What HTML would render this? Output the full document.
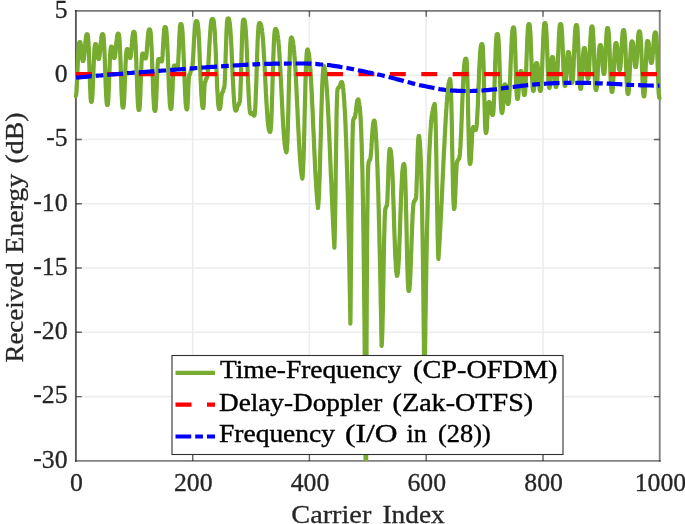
<!DOCTYPE html>
<html><head><meta charset="utf-8"><title>Received Energy</title>
<style>
html,body{margin:0;padding:0;background:#fff;}
svg{display:block;}
text{font-family:"Liberation Serif",serif;font-size:25.75px;fill:#262626;stroke:#262626;stroke-width:0.3px;}
.lg text{fill:#000;stroke:#000;stroke-width:0.4px;}
</style></head><body>
<svg width="685" height="524" viewBox="0 0 685 524">
<rect width="685" height="524" fill="#fff"/>
<defs><clipPath id="ax"><rect x="73.9" y="10.9" width="587.85" height="450.0"/></clipPath></defs>
<path d="M192.7 10.9V460.9M309.4 10.9V460.9M426.2 10.9V460.9M543.0 10.9V460.9M75.9 75.2H659.75M75.9 139.5H659.75M75.9 203.8H659.75M75.9 268.0H659.75M75.9 332.3H659.75M75.9 396.6H659.75" stroke="#ededed" stroke-width="1.6" fill="none"/>
<path d="M192.7 10.9v5.9M192.7 460.9v-5.9M309.4 10.9v5.9M309.4 460.9v-5.9M426.2 10.9v5.9M426.2 460.9v-5.9M543.0 10.9v5.9M543.0 460.9v-5.9M75.9 75.2h5.9M659.75 75.2h-5.9M75.9 139.5h5.9M659.75 139.5h-5.9M75.9 203.8h5.9M659.75 203.8h-5.9M75.9 268.0h5.9M659.75 268.0h-5.9M75.9 332.3h5.9M659.75 332.3h-5.9M75.9 396.6h5.9M659.75 396.6h-5.9" stroke="#262626" stroke-opacity="0.7" stroke-width="1.4" fill="none"/>
<g stroke="#262626" stroke-width="1.9" stroke-linecap="square" fill="none"><path d="M75.9 10.9V460.9" stroke-opacity="0.75"/><path d="M659.75 10.9V460.9" stroke-opacity="0.56"/><path d="M75.9 10.9H659.75" stroke-opacity="0.62"/><path d="M75.9 460.9H659.75" stroke-opacity="0.58"/></g>
<g clip-path="url(#ax)" fill="none" stroke-linejoin="round">
<polyline points="75.6,96.0 75.9,95.8 76.1,94.9 76.4,92.7 76.6,89.1 76.9,84.3 77.2,78.5 77.4,72.1 77.7,65.6 78.0,59.4 78.2,53.9 78.5,49.3 78.8,45.9 79.0,43.7 79.3,42.5 79.5,42.1 79.8,42.0 80.1,42.0 80.3,42.4 80.6,43.4 80.9,45.1 81.1,47.4 81.4,50.3 81.7,53.4 81.9,56.2 82.2,58.6 82.5,60.1 82.7,60.9 83.0,61.0 83.3,60.9 83.5,60.4 83.8,59.4 84.0,57.6 84.3,55.2 84.6,52.3 84.8,49.2 85.1,45.9 85.4,42.8 85.6,40.1 85.9,37.8 86.2,36.1 86.4,35.0 86.7,34.4 86.9,34.2 87.2,34.2 87.5,34.3 87.7,34.8 88.0,36.3 88.2,39.1 88.5,43.4 88.8,49.1 89.0,56.0 89.3,63.9 89.6,72.0 89.8,80.0 90.1,87.3 90.4,93.4 90.6,97.9 90.9,100.6 91.1,101.8 91.4,102.0 91.7,101.8 91.9,100.8 92.2,98.5 92.5,94.6 92.7,89.4 93.0,83.2 93.2,76.4 93.5,69.4 93.8,62.7 94.0,56.7 94.3,51.9 94.5,48.2 94.8,45.8 95.1,44.5 95.3,44.1 95.6,44.0 95.8,44.0 96.1,44.3 96.3,45.1 96.6,46.4 96.8,48.3 97.1,50.6 97.3,53.0 97.6,55.2 97.8,57.1 98.1,58.3 98.3,58.9 98.6,59.0 98.8,58.9 99.1,58.5 99.3,57.5 99.6,55.8 99.8,53.6 100.1,51.0 100.3,48.0 100.6,45.0 100.8,42.2 101.1,39.7 101.3,37.6 101.6,36.0 101.8,35.0 102.1,34.4 102.3,34.2 102.6,34.2 102.9,34.2 103.1,34.6 103.4,35.5 103.6,37.3 103.9,40.1 104.1,44.1 104.4,49.1 104.6,55.0 104.9,61.7 105.1,68.7 105.4,76.0 105.6,82.9 105.9,89.3 106.1,94.8 106.4,99.2 106.6,102.3 106.9,104.1 107.1,104.9 107.4,105.0 107.7,104.8 107.9,103.8 108.2,101.4 108.4,97.6 108.7,92.3 108.9,86.1 109.2,79.1 109.4,72.1 109.7,65.4 109.9,59.4 110.2,54.4 110.4,50.7 110.7,48.3 110.9,47.0 111.2,46.6 111.4,46.5 111.7,46.5 111.9,46.8 112.2,47.6 112.4,48.8 112.7,50.6 112.9,52.5 113.2,54.5 113.4,56.2 113.7,57.4 113.9,57.9 114.2,58.0 114.5,57.9 114.7,57.5 115.0,56.5 115.2,54.9 115.5,52.7 115.7,50.1 116.0,47.2 116.2,44.3 116.5,41.5 116.8,39.0 117.0,36.9 117.3,35.4 117.5,34.4 117.8,33.8 118.0,33.6 118.3,33.6 118.6,33.7 118.8,34.1 119.1,35.2 119.3,37.4 119.6,40.8 119.9,45.5 120.1,51.4 120.4,58.4 120.7,66.0 120.9,73.9 121.2,81.7 121.4,89.1 121.7,95.4 122.0,100.6 122.2,104.3 122.5,106.5 122.7,107.4 123.0,107.6 123.3,107.5 123.5,106.6 123.8,104.5 124.0,101.2 124.3,96.6 124.5,90.9 124.8,84.6 125.0,77.9 125.3,71.4 125.5,65.3 125.8,60.0 126.0,55.7 126.3,52.6 126.5,50.5 126.8,49.4 127.0,49.0 127.3,49.0 127.6,49.0 127.8,49.3 128.1,50.1 128.4,51.3 128.7,52.9 128.9,54.7 129.2,56.2 129.5,57.3 129.7,57.9 130.0,58.0 130.3,57.9 130.5,57.4 130.8,56.1 131.0,54.1 131.3,51.4 131.6,48.3 131.8,44.9 132.1,41.6 132.3,38.6 132.6,36.0 132.9,34.1 133.1,32.8 133.4,32.1 133.6,31.8 133.9,31.8 134.2,31.8 134.4,32.1 134.7,33.0 134.9,34.7 135.2,37.5 135.4,41.3 135.7,46.2 135.9,52.0 136.2,58.7 136.4,66.0 136.7,73.5 137.0,81.0 137.2,88.2 137.5,94.6 137.7,100.1 138.0,104.3 138.2,107.4 138.5,109.1 138.7,109.9 139.0,110.0 139.3,109.8 139.5,108.6 139.8,105.9 140.0,101.6 140.3,95.8 140.5,89.1 140.8,81.8 141.0,74.7 141.3,68.1 141.5,62.6 141.8,58.4 142.0,55.6 142.3,54.1 142.5,53.6 142.8,53.5 143.1,53.5 143.3,53.7 143.6,54.1 143.8,54.8 144.1,55.7 144.4,56.6 144.6,57.5 144.9,58.1 145.1,58.4 145.4,58.5 145.7,58.4 145.9,57.9 146.2,56.7 146.4,54.8 146.7,52.2 146.9,49.0 147.2,45.6 147.4,42.1 147.7,38.7 148.0,35.7 148.2,33.3 148.5,31.4 148.7,30.2 149.0,29.6 149.2,29.3 149.5,29.3 149.8,29.3 150.0,29.6 150.2,30.3 150.5,31.6 150.8,33.8 151.0,36.9 151.2,40.9 151.5,45.9 151.8,51.7 152.0,58.1 152.2,65.0 152.5,72.2 152.8,79.3 153.0,86.2 153.2,92.6 153.5,98.2 153.8,102.8 154.0,106.4 154.2,108.9 154.5,110.3 154.8,110.9 155.0,111.0 155.3,110.8 155.5,109.7 155.8,107.2 156.0,103.3 156.3,98.0 156.5,91.7 156.8,85.1 157.0,78.5 157.3,72.5 157.5,67.4 157.8,63.5 158.0,61.0 158.3,59.6 158.5,59.1 158.8,59.0 159.1,59.0 159.3,59.1 159.6,59.2 159.8,59.5 160.1,59.9 160.3,60.3 160.6,60.7 160.8,61.1 161.1,61.4 161.3,61.5 161.6,61.5 161.8,61.4 162.1,60.5 162.3,58.5 162.6,55.4 162.8,51.4 163.1,46.8 163.3,42.1 163.6,37.6 163.8,33.7 164.1,30.6 164.3,28.6 164.6,27.5 164.8,27.1 165.1,27.0 165.4,27.0 165.6,27.2 165.9,27.8 166.1,29.0 166.4,30.9 166.6,33.7 166.9,37.3 167.2,41.8 167.4,47.1 167.7,53.0 167.9,59.5 168.2,66.3 168.4,73.2 168.7,80.0 168.9,86.4 169.2,92.3 169.5,97.4 169.7,101.6 170.0,104.9 170.2,107.1 170.5,108.4 170.7,108.9 171.0,109.0 171.3,108.8 171.5,107.4 171.8,104.5 172.0,99.9 172.3,94.1 172.6,87.8 172.8,81.4 173.1,75.7 173.4,71.1 173.6,68.0 173.9,66.2 174.1,65.6 174.4,65.5 174.7,65.5 174.9,65.5 175.2,65.6 175.4,65.7 175.7,65.9 175.9,66.2 176.2,66.4 176.4,66.6 176.7,66.8 176.9,66.9 177.2,67.0 177.4,67.0 177.7,66.8 177.9,65.4 178.2,62.5 178.4,58.0 178.7,52.3 179.0,46.0 179.2,39.7 179.5,34.1 179.8,29.6 180.0,26.5 180.3,24.7 180.5,24.1 180.8,24.0 181.1,24.0 181.3,24.2 181.6,24.8 181.8,25.9 182.1,27.6 182.3,30.2 182.6,33.6 182.8,37.8 183.1,42.8 183.3,48.5 183.6,54.7 183.9,61.4 184.1,68.2 184.4,75.1 184.6,81.7 184.9,88.0 185.1,93.6 185.4,98.5 185.6,102.5 185.9,105.6 186.1,107.6 186.4,108.8 186.6,109.3 186.9,109.4 187.2,109.0 187.4,106.9 187.7,102.5 188.0,96.5 188.2,89.8 188.5,83.5 188.8,78.7 189.1,75.8 189.3,74.7 189.6,74.5 189.9,74.4 190.1,73.7 190.4,72.6 190.6,71.4 190.9,70.5 191.1,70.1 191.4,70.0 191.7,69.9 191.9,69.5 192.2,68.3 192.4,66.5 192.7,63.8 192.9,60.3 193.2,56.3 193.4,51.9 193.7,47.2 193.9,42.4 194.2,37.9 194.5,33.7 194.7,30.0 195.0,26.9 195.2,24.5 195.5,22.8 195.7,21.8 196.0,21.2 196.2,21.0 196.5,21.0 196.8,21.0 197.0,21.2 197.3,21.6 197.5,22.5 197.8,23.9 198.0,26.0 198.3,28.8 198.6,32.3 198.8,36.5 199.1,41.4 199.3,46.9 199.6,52.8 199.8,59.1 200.1,65.6 200.4,72.0 200.6,78.4 200.9,84.4 201.1,89.9 201.4,94.8 201.7,99.0 201.9,102.4 202.2,104.9 202.4,106.7 202.7,107.6 202.9,108.0 203.2,108.1 203.4,107.6 203.7,104.8 203.9,99.6 204.2,93.4 204.4,87.7 204.7,83.9 204.9,82.2 205.2,82.0 205.5,81.6 205.8,80.0 206.1,78.8 206.4,78.5 206.7,78.4 206.9,78.1 207.2,77.3 207.4,75.8 207.7,73.7 207.9,70.9 208.2,67.5 208.4,63.6 208.7,59.2 208.9,54.6 209.2,49.8 209.4,45.0 209.7,40.4 210.0,36.0 210.2,32.1 210.5,28.6 210.7,25.7 211.0,23.3 211.2,21.5 211.5,20.3 211.7,19.5 212.0,19.1 212.2,19.0 212.5,19.0 212.8,19.0 213.0,19.1 213.2,19.5 213.5,20.2 213.8,21.4 214.0,23.2 214.2,25.5 214.5,28.5 214.8,32.2 215.0,36.4 215.2,41.3 215.5,46.6 215.8,52.4 216.0,58.4 216.2,64.6 216.5,70.8 216.8,76.9 217.0,82.8 217.2,88.3 217.5,93.3 217.8,97.6 218.0,101.3 218.2,104.2 218.5,106.4 218.8,107.9 219.0,108.7 219.2,109.0 219.5,109.1 219.8,109.0 220.0,108.5 220.3,107.3 220.5,105.5 220.8,103.3 221.0,100.7 221.3,98.2 221.5,96.0 221.8,94.2 222.0,93.0 222.3,92.3 222.5,92.0 222.8,92.0 223.1,91.6 223.3,90.0 223.6,88.8 223.8,88.5 224.1,88.3 224.3,87.1 224.6,84.2 224.9,79.6 225.1,73.3 225.4,65.8 225.6,57.5 225.9,49.1 226.2,41.0 226.4,33.8 226.7,27.9 226.9,23.5 227.2,20.6 227.5,19.0 227.7,18.5 228.0,18.4 228.3,18.4 228.5,18.5 228.8,18.8 229.0,19.3 229.3,20.2 229.5,21.5 229.8,23.4 230.0,25.7 230.3,28.6 230.5,32.0 230.8,36.0 231.1,40.4 231.3,45.2 231.6,50.4 231.8,55.9 232.1,61.6 232.3,67.3 232.6,73.1 232.8,78.7 233.1,84.1 233.4,89.1 233.6,93.8 233.9,97.9 234.1,101.5 234.4,104.5 234.6,106.8 234.9,108.5 235.1,109.7 235.4,110.3 235.6,110.6 235.9,110.6 236.2,110.5 236.4,110.2 236.7,109.5 237.0,108.5 237.2,107.4 237.5,106.4 237.8,105.7 238.1,105.2 238.3,105.0 238.6,105.0 238.8,104.7 239.0,103.6 239.2,102.7 239.4,102.5 239.7,102.3 239.9,100.8 240.2,97.4 240.4,92.0 240.7,84.6 241.0,75.7 241.2,65.9 241.5,55.9 241.8,46.3 242.0,37.8 242.3,30.8 242.6,25.6 242.8,22.2 243.1,20.3 243.3,19.7 243.6,19.6 243.9,19.6 244.1,19.7 244.4,20.1 244.6,20.7 244.9,21.9 245.1,23.5 245.4,25.8 245.6,28.6 245.9,32.1 246.1,36.2 246.4,40.9 246.6,46.1 246.9,51.8 247.1,57.7 247.4,63.9 247.6,70.2 247.9,76.5 248.1,82.6 248.4,88.3 248.6,93.7 248.9,98.6 249.1,102.8 249.4,106.4 249.6,109.2 249.9,111.3 250.1,112.7 250.4,113.4 250.6,113.8 250.9,113.8 251.2,113.7 251.4,113.5 251.7,113.2 251.9,113.0 252.2,113.0 252.5,113.0 252.7,113.3 253.0,113.8 253.3,114.6 253.6,115.2 253.8,115.6 254.1,115.7 254.3,115.6 254.6,114.9 254.8,113.3 255.1,110.5 255.3,106.4 255.6,101.1 255.8,94.8 256.1,87.6 256.4,79.8 256.6,71.7 256.9,63.5 257.1,55.7 257.4,48.4 257.6,41.8 257.9,36.2 258.1,31.6 258.4,28.1 258.6,25.6 258.9,24.1 259.1,23.3 259.4,23.0 259.6,23.0 259.9,23.1 260.1,23.2 260.4,23.4 260.6,23.8 260.9,24.4 261.1,25.2 261.4,26.2 261.6,27.6 261.9,29.3 262.1,31.3 262.4,33.6 262.6,36.3 262.9,39.3 263.2,42.7 263.4,46.3 263.7,50.3 263.9,54.5 264.2,58.9 264.4,63.5 264.7,68.3 264.9,73.1 265.2,78.1 265.4,83.0 265.7,87.9 265.9,92.7 266.2,97.4 266.4,102.0 266.7,106.3 267.0,110.3 267.2,114.0 267.5,117.4 267.7,120.5 268.0,123.1 268.2,125.4 268.5,127.3 268.7,128.8 269.0,130.0 269.2,130.8 269.5,131.4 269.7,131.8 270.0,132.0 270.3,131.7 270.5,130.7 270.8,128.8 271.0,125.5 271.3,121.0 271.5,115.1 271.8,108.1 272.0,100.3 272.3,91.8 272.5,82.9 272.8,74.1 273.1,65.5 273.3,57.5 273.6,50.4 273.8,44.2 274.1,39.1 274.3,35.1 274.6,32.3 274.8,30.5 275.1,29.5 275.3,29.1 275.6,29.0 275.9,29.1 276.1,29.3 276.4,29.7 276.6,30.2 276.9,30.9 277.1,31.8 277.4,33.0 277.6,34.5 277.9,36.3 278.1,38.4 278.4,40.7 278.6,43.5 278.9,46.5 279.1,49.8 279.4,53.4 279.6,57.3 279.9,61.5 280.1,65.8 280.4,70.4 280.6,75.2 280.9,80.1 281.1,85.1 281.4,90.1 281.6,95.2 281.9,100.3 282.1,105.2 282.4,110.1 282.6,114.9 282.9,119.4 283.1,123.8 283.4,127.8 283.6,131.7 283.9,135.1 284.1,138.3 284.4,141.1 284.6,143.6 284.9,145.7 285.1,147.5 285.4,149.0 285.6,150.2 285.9,151.1 286.1,151.8 286.4,152.4 286.6,151.5 286.9,149.7 287.1,146.5 287.4,141.7 287.6,135.3 287.9,127.4 288.1,118.3 288.4,108.4 288.6,98.0 288.9,87.6 289.1,77.5 289.4,68.2 289.6,59.9 289.9,52.8 290.1,47.2 290.4,43.0 290.6,40.1 290.9,38.5 291.1,37.7 291.4,37.4 291.7,37.6 291.9,38.0 292.2,38.5 292.4,39.3 292.7,40.2 292.9,41.5 293.2,43.0 293.4,44.8 293.7,47.0 293.9,49.4 294.2,52.1 294.4,55.2 294.7,58.6 294.9,62.2 295.2,66.2 295.5,70.4 295.7,74.9 296.0,79.6 296.2,84.5 296.5,89.6 296.7,94.8 297.0,100.1 297.2,105.5 297.5,110.9 297.7,116.3 298.0,121.6 298.2,126.9 298.5,132.0 298.8,137.0 299.0,141.8 299.3,146.3 299.5,150.7 299.8,154.7 300.0,158.4 300.3,161.9 300.5,165.0 300.8,167.8 301.0,170.2 301.3,172.4 301.5,174.3 301.8,175.9 302.0,177.3 302.3,178.6 302.6,176.8 302.8,173.9 303.1,169.8 303.3,164.0 303.6,156.7 303.9,148.0 304.1,138.1 304.4,127.5 304.6,116.4 304.9,105.3 305.2,94.5 305.4,84.5 305.7,75.5 305.9,67.8 306.2,61.5 306.5,56.7 306.7,53.3 307.0,51.1 307.2,49.9 307.5,49.5 307.8,49.8 308.0,50.3 308.2,51.1 308.5,52.2 308.8,53.5 309.0,55.2 309.2,57.1 309.5,59.3 309.8,61.9 310.0,64.8 310.2,68.0 310.5,71.5 310.8,75.3 311.0,79.5 311.2,83.8 311.5,88.5 311.8,93.4 312.0,98.5 312.2,103.7 312.5,109.2 312.8,114.7 313.0,120.4 313.2,126.1 313.5,131.8 313.8,137.6 314.0,143.3 314.2,148.9 314.5,154.4 314.8,159.7 315.0,164.9 315.2,169.9 315.5,174.7 315.8,179.2 316.0,183.5 316.2,187.4 316.5,191.2 316.8,194.6 317.0,197.7 317.2,200.6 317.5,203.3 317.8,205.7 318.0,208.0 318.2,205.6 318.5,202.5 318.8,198.5 319.0,193.6 319.2,187.7 319.5,180.7 319.8,172.9 320.0,164.3 320.2,155.2 320.5,145.6 320.8,135.9 321.0,126.3 321.2,116.9 321.5,108.0 321.8,99.8 322.0,92.3 322.2,85.8 322.5,80.2 322.8,75.6 323.0,72.0 323.2,69.3 323.5,67.5 323.8,66.5 324.0,66.0 324.3,66.5 324.5,67.3 324.8,68.4 325.0,69.8 325.3,71.6 325.5,73.7 325.8,76.1 326.0,78.8 326.3,81.8 326.5,85.1 326.8,88.7 327.0,92.5 327.3,96.6 327.6,101.0 327.8,105.6 328.1,110.5 328.3,115.5 328.6,120.8 328.8,126.2 329.1,131.7 329.3,137.4 329.6,143.2 329.8,149.0 330.1,155.0 330.3,160.9 330.6,166.9 330.8,172.9 331.1,178.9 331.4,184.8 331.6,190.7 331.9,196.5 332.1,202.2 332.4,207.8 332.6,213.3 332.9,218.6 333.1,223.8 333.4,228.9 333.6,233.8 333.9,238.5 334.1,243.1 334.4,247.6 334.7,238.8 334.9,227.0 335.2,211.9 335.5,193.9 335.7,174.2 336.0,154.3 336.3,135.4 336.5,119.0 336.8,105.9 337.1,96.6 337.3,91.1 337.6,89.0 337.9,88.8 338.1,88.2 338.4,87.6 338.6,87.5 338.9,87.5 339.1,87.3 339.4,86.9 339.6,86.4 339.9,85.6 340.2,84.8 340.4,84.0 340.7,83.3 341.0,82.7 341.2,82.3 341.5,82.1 341.7,82.0 342.0,82.0 342.3,82.8 342.5,83.9 342.8,85.3 343.0,87.2 343.3,89.4 343.5,92.0 343.8,94.9 344.0,98.3 344.3,102.0 344.5,106.1 344.8,110.7 345.1,115.6 345.3,121.0 345.6,126.7 345.8,132.9 346.1,139.6 346.3,146.6 346.6,154.2 346.8,162.1 347.1,170.5 347.3,179.4 347.6,188.7 347.9,198.5 348.1,208.8 348.4,219.6 348.6,230.8 348.9,242.5 349.1,254.8 349.4,267.5 349.6,280.8 349.9,294.5 350.1,308.8 350.4,323.6 350.7,296.5 350.9,269.9 351.2,244.2 351.4,219.8 351.7,197.1 351.9,176.5 352.2,158.5 352.4,143.4 352.7,131.6 352.9,123.7 353.2,120.0 353.4,119.7 353.7,118.9 353.9,118.1 354.2,118.0 354.5,117.9 354.7,117.6 355.0,116.9 355.2,115.6 355.5,114.0 355.8,112.0 356.0,109.8 356.3,107.5 356.6,105.4 356.8,103.5 357.1,101.9 357.3,100.7 357.6,100.0 357.9,99.6 358.1,99.4 358.4,99.4 358.7,100.5 358.9,101.7 359.2,103.1 359.4,104.7 359.7,106.7 359.9,109.1 360.2,112.0 360.4,115.5 360.7,119.7 360.9,124.6 361.2,130.5 361.4,137.2 361.7,145.0 361.9,153.9 362.2,164.1 362.5,175.5 362.7,188.3 363.0,202.6 363.2,218.4 363.5,235.9 363.7,255.1 364.0,276.1 364.2,299.0 364.5,323.9 364.7,350.9 365.0,380.0 365.2,411.4 365.5,445.2 365.7,481.3 366.0,490.9 366.3,427.6 366.5,353.1 366.8,294.5 367.0,249.8 367.3,217.0 367.6,194.2 367.8,179.3 368.1,170.2 368.3,165.2 368.6,162.0 368.9,161.7 369.1,160.9 369.4,160.1 369.6,160.0 369.9,159.9 370.1,159.5 370.4,158.5 370.6,156.7 370.9,154.3 371.1,151.3 371.4,147.7 371.6,143.8 371.9,139.8 372.1,135.9 372.4,132.2 372.6,128.9 372.9,126.1 373.1,123.9 373.4,122.3 373.6,121.3 373.9,120.8 374.1,120.6 374.4,120.6 374.7,121.5 374.9,123.1 375.2,125.2 375.4,127.9 375.7,131.1 375.9,134.9 376.2,139.3 376.5,144.2 376.7,149.6 377.0,155.6 377.2,162.1 377.5,169.1 377.7,176.6 378.0,184.7 378.3,193.2 378.5,202.2 378.8,211.7 379.0,221.7 379.3,232.1 379.5,243.0 379.8,254.4 380.1,266.2 380.3,278.4 380.6,291.1 380.8,304.2 381.1,317.7 381.3,331.7 381.6,346.0 381.9,342.6 382.1,337.5 382.4,330.2 382.6,320.5 382.9,308.8 383.1,295.5 383.4,281.3 383.6,267.0 383.9,253.2 384.1,240.8 384.4,230.1 384.6,221.5 384.9,215.2 385.1,211.1 385.4,208.8 385.6,208.0 385.9,207.7 386.1,206.9 386.4,206.1 386.6,206.0 386.9,205.7 387.1,203.9 387.4,200.1 387.6,194.1 387.9,186.5 388.2,178.2 388.4,169.8 388.7,162.4 389.0,156.4 389.2,152.3 389.5,150.0 389.7,149.1 390.0,149.0 390.2,149.2 390.5,149.8 390.8,150.8 391.0,152.3 391.2,154.4 391.5,157.2 391.8,160.7 392.0,165.0 392.2,170.0 392.5,175.7 392.8,182.1 393.0,189.0 393.2,196.3 393.5,204.0 393.8,211.8 394.0,219.7 394.2,227.5 394.5,235.1 394.8,242.2 395.0,248.9 395.2,254.9 395.5,260.1 395.8,264.6 396.0,268.3 396.2,271.2 396.5,273.3 396.8,274.9 397.0,276.0 397.2,275.5 397.5,274.7 397.8,273.2 398.0,271.1 398.2,268.1 398.5,264.4 398.8,259.8 399.0,254.4 399.2,248.4 399.5,241.8 399.8,234.9 400.0,227.6 400.2,220.3 400.5,212.9 400.8,205.8 401.0,199.0 401.2,192.6 401.5,186.8 401.8,181.6 402.0,177.1 402.2,173.3 402.5,170.3 402.8,167.9 403.0,166.2 403.2,165.1 403.5,164.4 403.8,164.1 404.0,164.0 404.3,164.5 404.5,165.9 404.8,168.6 405.0,172.9 405.3,179.0 405.5,186.8 405.8,196.3 406.0,207.2 406.3,219.0 406.6,231.2 406.8,243.4 407.1,254.9 407.3,265.3 407.6,274.0 407.8,280.9 408.1,285.9 408.3,289.1 408.6,291.0 408.9,290.9 409.1,290.4 409.4,289.2 409.6,287.0 409.9,283.8 410.1,279.6 410.4,274.4 410.6,268.4 410.9,261.9 411.1,254.8 411.4,247.6 411.6,240.4 411.9,233.4 412.1,226.8 412.4,220.8 412.6,215.5 412.9,211.1 413.1,207.5 413.4,204.8 413.6,203.0 413.9,201.8 414.1,201.2 414.4,201.0 414.6,201.0 414.9,200.7 415.1,199.9 415.4,199.1 415.6,199.0 415.9,198.7 416.1,196.7 416.4,192.4 416.6,185.8 416.9,177.5 417.2,168.2 417.4,159.0 417.7,150.8 418.0,144.2 418.2,139.6 418.5,137.1 418.7,136.1 419.0,136.0 419.3,137.3 419.5,139.2 419.8,141.7 420.0,145.1 420.3,149.2 420.5,154.4 420.8,160.5 421.1,167.8 421.3,176.2 421.6,185.9 421.8,196.9 422.1,209.4 422.3,223.4 422.6,239.0 422.9,256.3 423.1,275.3 423.4,296.2 423.6,319.1 423.9,343.9 424.1,370.9 424.4,400.0 424.7,379.4 424.9,359.8 425.2,341.2 425.4,323.6 425.7,306.9 425.9,291.0 426.2,276.1 426.4,262.0 426.7,248.7 426.9,236.2 427.2,224.5 427.5,213.5 427.7,203.3 428.0,193.7 428.2,184.9 428.5,176.6 428.7,169.0 429.0,161.9 429.2,155.5 429.5,149.5 429.8,144.1 430.0,139.1 430.3,134.7 430.5,130.6 430.8,127.0 431.0,123.7 431.3,120.8 431.5,118.3 431.8,116.0 432.1,114.0 432.3,112.3 432.6,110.8 432.8,109.5 433.1,108.4 433.3,107.5 433.6,106.6 433.8,105.9 434.1,105.2 434.3,104.6 434.6,104.0 434.9,105.4 435.1,108.7 435.4,114.4 435.6,122.6 435.9,133.2 436.1,146.0 436.4,160.6 436.6,176.2 436.9,192.1 437.1,207.6 437.4,221.9 437.6,234.4 437.9,244.8 438.1,252.8 438.4,259.0 438.7,255.2 438.9,251.3 439.2,247.3 439.4,243.1 439.7,238.9 439.9,234.4 440.2,229.9 440.4,225.2 440.7,220.4 440.9,215.6 441.2,210.6 441.4,205.5 441.7,200.3 441.9,195.1 442.2,189.8 442.4,184.5 442.7,179.2 442.9,173.8 443.2,168.5 443.4,163.2 443.7,157.9 443.9,152.7 444.2,147.6 444.5,142.6 444.7,137.6 445.0,132.8 445.2,128.2 445.5,123.7 445.7,119.3 446.0,115.1 446.2,111.1 446.5,107.4 446.7,103.8 447.0,100.4 447.2,97.3 447.5,94.4 447.7,91.7 448.0,89.3 448.2,87.1 448.5,85.2 448.7,83.5 449.0,82.1 449.2,81.0 449.5,80.1 449.7,79.4 450.0,79.0 450.2,79.7 450.5,81.6 450.8,85.3 451.0,91.2 451.2,99.3 451.5,109.6 451.8,121.7 452.0,135.1 452.2,149.0 452.5,162.8 452.8,175.6 453.0,186.8 453.2,195.7 453.5,202.3 453.8,206.5 454.0,209.0 454.3,208.8 454.5,207.6 454.8,204.9 455.0,200.6 455.3,195.0 455.5,188.6 455.8,182.0 456.1,175.7 456.3,170.3 456.6,166.1 456.8,163.2 457.1,161.6 457.3,161.1 457.6,161.0 457.9,160.7 458.1,159.9 458.4,159.1 458.6,159.0 458.9,158.9 459.1,158.4 459.4,157.5 459.6,156.0 459.9,153.7 460.1,150.7 460.4,146.9 460.6,142.4 460.9,137.2 461.2,131.6 461.4,125.4 461.7,119.0 461.9,112.4 462.2,105.8 462.4,99.3 462.7,93.0 462.9,87.1 463.2,81.6 463.4,76.6 463.7,72.2 464.0,68.5 464.2,65.5 464.5,63.0 464.7,61.2 465.0,60.0 465.2,59.2 465.5,58.8 465.7,58.6 466.0,58.6 466.2,58.8 466.5,59.9 466.8,62.4 467.0,66.9 467.2,73.6 467.5,82.3 467.8,92.9 468.0,104.7 468.2,117.1 468.5,129.2 468.8,140.3 469.0,149.6 469.2,156.6 469.5,161.1 469.8,163.3 470.0,164.0 470.2,163.8 470.5,162.9 470.8,160.8 471.0,157.5 471.2,153.2 471.5,148.3 471.8,143.2 472.0,138.3 472.2,134.2 472.5,130.9 472.8,128.7 473.0,127.5 473.2,127.1 473.5,127.0 473.8,127.0 474.0,127.2 474.2,127.7 474.5,128.3 474.8,129.0 475.0,129.6 475.2,129.9 475.5,130.0 475.8,129.9 476.0,129.5 476.2,128.6 476.5,126.9 476.8,124.4 477.0,121.0 477.2,116.9 477.5,112.0 477.8,106.6 478.0,100.6 478.2,94.4 478.5,88.0 478.8,81.6 479.0,75.4 479.2,69.6 479.5,64.2 479.8,59.3 480.0,55.2 480.2,51.7 480.5,48.9 480.8,46.9 481.0,45.5 481.2,44.6 481.5,44.2 481.8,44.0 482.0,44.0 482.2,44.1 482.5,44.8 482.8,46.8 483.0,50.4 483.2,56.1 483.5,63.6 483.8,72.7 484.0,82.9 484.2,93.7 484.5,104.2 484.8,113.7 485.0,121.7 485.2,127.6 485.5,131.2 485.8,132.7 486.0,133.0 486.2,132.8 486.5,131.6 486.8,129.1 487.0,125.2 487.2,120.5 487.5,115.6 487.8,110.9 488.0,107.0 488.2,104.2 488.5,102.7 488.8,102.1 489.0,102.0 489.3,102.0 489.5,102.2 489.8,102.6 490.0,103.4 490.3,104.5 490.5,106.0 490.8,107.7 491.1,109.5 491.3,111.2 491.6,112.7 491.8,113.9 492.1,114.6 492.3,114.9 492.6,115.0 492.9,114.9 493.1,114.0 493.4,111.9 493.6,108.3 493.9,103.3 494.1,97.0 494.4,89.7 494.6,81.8 494.9,73.5 495.1,65.4 495.4,57.8 495.6,51.0 495.9,45.3 496.1,40.8 496.4,37.5 496.6,35.5 496.9,34.4 497.1,34.0 497.4,34.0 497.7,34.1 497.9,34.5 498.2,35.7 498.4,38.1 498.7,41.7 498.9,46.7 499.2,53.1 499.4,60.4 499.7,68.6 500.0,77.0 500.2,85.4 500.5,93.2 500.7,100.0 501.0,105.5 501.2,109.5 501.5,111.8 501.7,112.8 502.0,113.0 502.2,112.8 502.5,111.7 502.8,109.4 503.0,105.8 503.2,101.5 503.5,96.9 503.8,92.6 504.0,89.0 504.2,86.5 504.5,85.0 504.8,84.5 505.0,84.4 505.2,84.4 505.5,84.8 505.8,85.8 506.0,87.6 506.2,90.0 506.5,93.0 506.8,96.1 507.0,99.1 507.2,101.5 507.5,103.1 507.8,103.9 508.0,104.0 508.3,103.9 508.5,103.4 508.8,102.0 509.0,99.7 509.3,96.3 509.5,92.0 509.8,86.7 510.0,80.8 510.3,74.3 510.5,67.6 510.8,60.9 511.1,54.4 511.3,48.4 511.6,42.9 511.8,38.3 512.1,34.5 512.3,31.6 512.6,29.6 512.8,28.3 513.1,27.7 513.3,27.4 513.6,27.4 513.9,27.5 514.1,28.2 514.4,30.1 514.6,33.6 514.9,38.9 515.1,45.9 515.4,54.2 515.6,63.3 515.9,72.5 516.1,81.1 516.4,88.3 516.6,93.8 516.9,97.2 517.1,98.8 517.4,99.0 517.7,98.9 517.9,98.2 518.2,96.6 518.4,94.1 518.7,90.8 518.9,87.1 519.2,83.2 519.5,79.6 519.7,76.4 520.0,74.0 520.2,72.3 520.5,71.4 520.7,71.0 521.0,71.0 521.3,71.0 521.5,71.4 521.8,72.4 522.0,74.1 522.3,76.6 522.6,79.8 522.8,83.3 523.1,86.8 523.4,90.0 523.6,92.5 523.9,94.1 524.1,94.9 524.4,95.0 524.7,94.9 524.9,93.9 525.2,91.8 525.4,88.3 525.7,83.3 525.9,77.2 526.2,70.2 526.4,62.7 526.7,55.1 527.0,47.8 527.2,41.1 527.5,35.5 527.7,30.9 528.0,27.6 528.2,25.5 528.5,24.4 528.7,24.0 529.0,24.0 529.3,24.1 529.5,24.5 529.8,25.7 530.0,28.1 530.3,31.7 530.6,36.6 530.8,42.6 531.1,49.6 531.3,57.1 531.6,64.7 531.8,71.9 532.1,78.4 532.4,83.7 532.6,87.5 532.9,89.8 533.1,90.8 533.4,91.0 533.7,90.8 533.9,89.7 534.2,87.4 534.5,84.0 534.7,79.7 535.0,75.2 535.3,71.0 535.5,67.5 535.8,65.0 536.1,63.6 536.3,63.1 536.6,63.0 536.9,63.0 537.1,63.3 537.4,64.1 537.6,65.4 537.9,67.5 538.1,70.2 538.4,73.5 538.6,77.0 538.9,80.6 539.1,84.0 539.4,86.8 539.6,89.0 539.9,90.3 540.1,90.9 540.4,91.0 540.7,90.9 540.9,90.0 541.2,88.0 541.4,84.6 541.7,79.8 541.9,74.0 542.2,67.2 542.4,60.0 542.7,52.7 543.0,45.7 543.2,39.4 543.5,34.0 543.7,29.6 544.0,26.5 544.2,24.5 544.5,23.4 544.7,23.0 545.0,23.0 545.3,23.1 545.5,23.5 545.8,24.7 546.0,26.9 546.3,30.4 546.6,35.2 546.8,41.1 547.1,47.8 547.3,55.1 547.6,62.5 547.8,69.5 548.1,75.8 548.4,80.9 548.6,84.6 548.9,86.9 549.1,87.8 549.4,88.0 549.6,87.8 549.9,86.6 550.1,84.1 550.4,80.2 550.6,75.5 550.9,70.6 551.1,65.9 551.4,62.0 551.6,59.2 551.9,57.7 552.1,57.1 552.4,57.0 552.7,57.0 552.9,57.4 553.2,58.4 553.4,60.2 553.7,62.8 553.9,66.2 554.2,70.1 554.5,74.3 554.7,78.2 555.0,81.7 555.2,84.4 555.5,86.1 555.7,86.9 556.0,87.0 556.3,86.9 556.5,86.1 556.8,84.2 557.0,81.0 557.3,76.7 557.5,71.2 557.8,65.0 558.0,58.3 558.3,51.6 558.6,45.1 558.8,39.2 559.1,34.2 559.3,30.2 559.6,27.2 559.8,25.4 560.1,24.4 560.3,24.0 560.6,24.0 560.9,24.1 561.1,24.5 561.4,25.6 561.6,27.8 561.9,31.1 562.2,35.6 562.4,41.2 562.7,47.7 562.9,54.6 563.2,61.7 563.4,68.4 563.7,74.3 564.0,79.2 564.2,82.8 564.5,84.9 564.7,85.8 565.0,86.0 565.3,85.8 565.5,84.8 565.8,82.5 566.0,78.9 566.3,74.4 566.6,69.4 566.8,64.4 567.1,60.0 567.4,56.4 567.6,54.0 567.9,52.6 568.1,52.1 568.4,52.0 568.7,52.0 568.9,52.4 569.2,53.4 569.4,55.3 569.7,58.0 569.9,61.5 570.2,65.6 570.5,69.8 570.7,74.0 571.0,77.6 571.2,80.3 571.5,82.1 571.7,82.9 572.0,83.0 572.3,82.9 572.5,82.0 572.8,80.0 573.0,76.7 573.3,72.1 573.6,66.5 573.8,60.2 574.1,53.7 574.3,47.2 574.6,41.1 574.8,35.9 575.1,31.6 575.4,28.5 575.6,26.5 575.9,25.4 576.1,25.0 576.4,25.0 576.7,25.1 576.9,25.6 577.2,27.0 577.5,29.6 577.7,33.7 578.0,39.1 578.2,45.6 578.5,53.0 578.8,60.7 579.0,68.3 579.3,75.1 579.5,80.9 579.8,85.1 580.1,87.7 580.3,88.8 580.6,89.0 580.9,88.9 581.1,88.0 581.4,86.0 581.6,82.9 581.9,78.7 582.1,73.8 582.4,68.6 582.6,63.4 582.9,58.6 583.1,54.6 583.4,51.6 583.6,49.5 583.9,48.4 584.1,48.0 584.4,48.0 584.7,48.0 584.9,48.4 585.2,49.4 585.4,51.3 585.7,54.0 585.9,57.5 586.2,61.6 586.5,65.8 586.7,70.0 587.0,73.6 587.2,76.3 587.5,78.1 587.7,78.9 588.0,79.0 588.2,78.8 588.5,77.9 588.8,75.8 589.0,72.3 589.2,67.6 589.5,62.0 589.8,55.8 590.0,49.4 590.2,43.4 590.5,38.0 590.8,33.5 591.0,30.2 591.2,28.0 591.5,26.9 591.8,26.5 592.0,26.4 592.2,26.5 592.5,27.0 592.8,28.4 593.0,31.0 593.2,35.0 593.5,40.4 593.8,46.9 594.0,54.2 594.2,61.9 594.5,69.4 594.8,76.2 595.0,81.9 595.2,86.1 595.5,88.7 595.8,89.8 596.0,90.0 596.3,89.9 596.5,89.2 596.8,87.7 597.0,85.1 597.3,81.5 597.6,77.2 597.8,72.3 598.1,67.2 598.3,62.2 598.6,57.5 598.8,53.4 599.1,50.2 599.4,47.7 599.6,46.2 599.9,45.3 600.1,45.0 600.4,45.0 600.7,45.0 600.9,45.4 601.2,46.3 601.4,48.1 601.7,50.6 601.9,53.9 602.2,57.7 602.5,61.7 602.7,65.5 603.0,68.9 603.2,71.5 603.5,73.1 603.7,73.9 604.0,74.0 604.3,73.8 604.5,72.6 604.8,70.0 605.0,65.9 605.3,60.6 605.5,54.5 605.8,48.1 606.1,42.1 606.3,36.9 606.6,32.9 606.8,30.1 607.1,28.6 607.3,28.1 607.6,28.0 607.9,28.1 608.1,28.5 608.4,29.7 608.6,31.9 608.9,35.3 609.2,40.0 609.4,45.8 609.7,52.5 609.9,59.6 610.2,66.9 610.4,73.8 610.7,80.0 611.0,85.0 611.2,88.7 611.5,90.9 611.7,91.8 612.0,92.0 612.2,91.9 612.5,91.0 612.8,89.0 613.0,85.8 613.2,81.4 613.5,76.1 613.8,70.3 614.0,64.4 614.2,58.8 614.5,53.8 614.8,49.6 615.0,46.5 615.2,44.5 615.5,43.4 615.8,43.0 616.0,43.0 616.3,43.0 616.5,43.4 616.8,44.2 617.0,45.9 617.3,48.2 617.5,51.3 617.8,54.8 618.1,58.5 618.3,62.1 618.6,65.3 618.8,67.7 619.1,69.2 619.3,69.9 619.6,70.0 619.9,69.9 620.1,69.2 620.4,67.6 620.6,64.9 620.9,61.3 621.1,57.0 621.4,52.3 621.6,47.5 621.9,42.9 622.1,38.8 622.4,35.4 622.6,32.9 622.9,31.2 623.1,30.4 623.4,30.0 623.6,30.0 623.9,30.1 624.1,30.5 624.4,31.7 624.6,33.9 624.9,37.3 625.2,42.0 625.4,47.8 625.7,54.5 625.9,61.6 626.2,68.9 626.4,75.8 626.7,82.0 627.0,87.0 627.2,90.7 627.5,92.9 627.7,93.8 628.0,94.0 628.2,93.8 628.5,92.9 628.8,90.8 629.0,87.3 629.2,82.6 629.5,77.0 629.8,70.8 630.0,64.4 630.2,58.4 630.5,53.0 630.8,48.5 631.0,45.2 631.2,43.0 631.5,41.9 631.8,41.5 632.0,41.4 632.3,41.4 632.5,41.7 632.8,42.6 633.0,44.1 633.3,46.4 633.5,49.3 633.8,52.6 634.1,56.1 634.3,59.5 634.6,62.5 634.8,64.8 635.1,66.2 635.3,66.9 635.6,67.0 635.9,66.9 636.1,66.1 636.4,64.4 636.6,61.7 636.9,58.1 637.1,53.8 637.4,49.3 637.6,44.7 637.9,40.6 638.1,37.1 638.4,34.5 638.6,32.7 638.9,31.8 639.1,31.4 639.4,31.4 639.7,31.4 639.9,31.8 640.2,32.8 640.4,34.7 640.7,37.7 640.9,41.9 641.2,47.1 641.4,53.1 641.7,59.8 642.0,66.8 642.2,73.7 642.5,80.1 642.7,85.7 643.0,90.2 643.2,93.5 643.5,95.4 643.7,96.3 644.0,96.4 644.3,96.2 644.5,94.8 644.8,91.6 645.0,86.7 645.3,80.2 645.5,72.9 645.8,65.2 646.1,58.0 646.3,51.7 646.6,46.9 646.8,43.6 647.1,41.7 647.3,41.1 647.6,41.0 647.9,41.0 648.1,41.2 648.4,41.8 648.6,42.9 648.9,44.5 649.1,46.7 649.4,49.2 649.6,52.0 649.9,54.9 650.1,57.5 650.4,59.7 650.6,61.4 650.9,62.5 651.1,62.9 651.4,63.0 651.6,62.9 651.9,62.4 652.1,61.1 652.4,59.1 652.6,56.4 652.9,53.1 653.1,49.5 653.4,45.8 653.6,42.3 653.9,39.1 654.1,36.5 654.4,34.6 654.6,33.3 654.9,32.7 655.1,32.4 655.4,32.4 655.7,32.5 655.9,33.0 656.2,34.4 656.5,37.1 656.7,41.3 657.0,46.8 657.2,53.5 657.5,61.1 657.8,69.0 658.0,76.8 658.3,83.8 658.5,89.7 658.8,94.0 659.1,96.7 659.3,97.8 659.6,98.0" stroke="#77ac30" stroke-width="4.2" stroke-linecap="round"/>
<path d="M75.9 74.1H659.75" stroke="#ff0000" stroke-width="4.2" stroke-dasharray="15.9 15.5"/>
<polyline points="75.5,77.7 77.5,77.5 79.5,77.3 81.5,77.1 83.5,77.0 85.5,76.8 87.5,76.6 89.5,76.4 91.5,76.2 93.5,76.1 95.5,75.9 97.5,75.7 99.5,75.5 101.5,75.4 103.5,75.2 105.5,75.0 107.5,74.8 109.5,74.7 111.5,74.5 113.5,74.3 115.5,74.2 117.5,74.0 119.5,73.8 121.5,73.7 123.5,73.5 125.5,73.4 127.5,73.2 129.5,73.0 131.5,72.9 133.5,72.7 135.5,72.6 137.5,72.4 139.5,72.3 141.5,72.1 143.5,72.0 145.5,71.8 147.5,71.7 149.5,71.5 151.5,71.4 153.5,71.3 155.5,71.1 157.5,71.0 159.5,70.8 161.5,70.7 163.5,70.5 165.5,70.4 167.5,70.2 169.5,70.1 171.5,69.9 173.5,69.8 175.5,69.6 177.5,69.5 179.5,69.3 181.5,69.2 183.5,69.0 185.5,68.9 187.5,68.7 189.5,68.6 191.5,68.4 193.5,68.3 195.5,68.1 197.5,68.0 199.5,67.8 201.5,67.7 203.5,67.5 205.5,67.4 207.5,67.2 209.5,67.1 211.5,66.9 213.5,66.8 215.5,66.7 217.5,66.6 219.5,66.4 221.5,66.3 223.5,66.2 225.5,66.1 227.5,65.9 229.5,65.8 231.5,65.7 233.5,65.5 235.5,65.4 237.5,65.3 239.5,65.2 241.5,65.0 243.5,64.9 245.5,64.8 247.5,64.7 249.5,64.6 251.5,64.5 253.5,64.4 255.5,64.3 257.5,64.2 259.5,64.1 261.5,64.0 263.5,64.0 265.5,63.9 267.5,63.8 269.5,63.8 271.5,63.8 273.5,63.7 275.5,63.7 277.5,63.7 279.5,63.7 281.5,63.6 283.5,63.6 285.5,63.6 287.5,63.6 289.5,63.5 291.5,63.5 293.5,63.5 295.5,63.5 297.5,63.5 299.5,63.5 301.5,63.5 303.5,63.5 305.5,63.5 307.5,63.6 309.5,63.6 311.5,63.7 313.5,63.8 315.5,63.9 317.5,64.1 319.5,64.4 321.5,64.5 323.5,64.7 325.5,64.9 327.5,65.0 329.5,65.2 331.5,65.5 333.5,65.8 335.5,66.1 337.5,66.4 339.5,66.7 341.5,67.1 343.5,67.4 345.5,67.8 347.5,68.1 349.5,68.5 351.5,68.9 353.5,69.3 355.5,69.7 357.5,70.1 359.5,70.5 361.5,70.9 363.5,71.3 365.5,71.7 367.5,72.2 369.5,72.6 371.5,73.0 373.5,73.5 375.5,73.9 377.5,74.4 379.5,74.8 381.5,75.3 383.5,75.8 385.5,76.3 387.5,76.8 389.5,77.3 391.5,77.8 393.5,78.3 395.5,78.8 397.5,79.4 399.5,79.9 401.5,80.4 403.5,80.9 405.5,81.5 407.5,82.0 409.5,82.5 411.5,83.1 413.5,83.6 415.5,84.1 417.5,84.6 419.5,85.1 421.5,85.5 423.5,85.9 425.5,86.3 427.5,86.7 429.5,87.1 431.5,87.5 433.5,87.9 435.5,88.3 437.5,88.7 439.5,89.1 441.5,89.4 443.5,89.7 445.5,90.0 447.5,90.1 449.5,90.3 451.5,90.5 453.5,90.6 455.5,90.7 457.5,90.8 459.5,90.9 461.5,90.9 463.5,91.0 465.5,91.0 467.5,91.0 469.5,91.0 471.5,91.0 473.5,90.9 475.5,90.8 477.5,90.7 479.5,90.6 481.5,90.5 483.5,90.4 485.5,90.2 487.5,90.1 489.5,89.9 491.5,89.7 493.5,89.5 495.5,89.3 497.5,89.0 499.5,88.8 501.5,88.5 503.5,88.2 505.5,87.9 507.5,87.6 509.5,87.4 511.5,87.1 513.5,86.9 515.5,86.6 517.5,86.4 519.5,86.2 521.5,85.9 523.5,85.7 525.5,85.5 527.5,85.2 529.5,85.0 531.5,84.8 533.5,84.6 535.5,84.4 537.5,84.2 539.5,84.1 541.5,83.9 543.5,83.8 545.5,83.7 547.5,83.5 549.5,83.4 551.5,83.3 553.5,83.2 555.5,83.1 557.5,83.1 559.5,83.0 561.5,82.9 563.5,82.9 565.5,82.9 567.5,82.8 569.5,82.8 571.5,82.8 573.5,82.8 575.5,82.8 577.5,82.8 579.5,82.8 581.5,82.8 583.5,82.9 585.5,82.9 587.5,82.9 589.5,83.0 591.5,83.0 593.5,83.1 595.5,83.2 597.5,83.3 599.5,83.3 601.5,83.4 603.5,83.5 605.5,83.5 607.5,83.6 609.5,83.7 611.5,83.8 613.5,83.9 615.5,84.0 617.5,84.1 619.5,84.2 621.5,84.4 623.5,84.5 625.5,84.6 627.5,84.8 629.5,84.9 631.5,85.0 633.5,85.0 635.5,85.1 637.5,85.2 639.5,85.2 641.5,85.3 643.5,85.4 645.5,85.4 647.5,85.5 649.5,85.5 651.5,85.5 653.5,85.6 655.5,85.6 657.5,85.7 659.5,85.7" stroke="#0000ff" stroke-width="4.2" stroke-dasharray="15.7 4 7.74 4" stroke-dashoffset="-0.6"/>
</g>
<text x="67.6" y="17.7" text-anchor="end">5</text>
<text x="67.6" y="82.0" text-anchor="end">0</text>
<text x="67.6" y="146.3" text-anchor="end"><tspan dy="-1.3">-</tspan><tspan dy="1.3">5</tspan></text>
<text x="67.6" y="210.6" text-anchor="end"><tspan dy="-1.3">-</tspan><tspan dy="1.3">10</tspan></text>
<text x="67.6" y="274.8" text-anchor="end"><tspan dy="-1.3">-</tspan><tspan dy="1.3">15</tspan></text>
<text x="67.6" y="339.1" text-anchor="end"><tspan dy="-1.3">-</tspan><tspan dy="1.3">20</tspan></text>
<text x="67.6" y="403.4" text-anchor="end"><tspan dy="-1.3">-</tspan><tspan dy="1.3">25</tspan></text>
<text x="67.6" y="467.7" text-anchor="end"><tspan dy="-1.3">-</tspan><tspan dy="1.3">30</tspan></text>
<text x="76.5" y="491" text-anchor="middle">0</text>
<text x="193.3" y="491" text-anchor="middle">200</text>
<text x="310.0" y="491" text-anchor="middle">400</text>
<text x="426.8" y="491" text-anchor="middle">600</text>
<text x="543.6" y="491" text-anchor="middle">800</text>
<text x="660.4" y="491" text-anchor="middle">1000</text>
<text y="522.7"><tspan x="291.3" textLength="80" lengthAdjust="spacingAndGlyphs">Carrier</tspan> <tspan x="382.5" textLength="62.2" lengthAdjust="spacingAndGlyphs">Index</tspan></text>
<text transform="translate(22.7 362.6) rotate(-90)" y="0"><tspan x="0" textLength="100.3" lengthAdjust="spacingAndGlyphs">Received</tspan> <tspan x="108.9" textLength="79.9" lengthAdjust="spacingAndGlyphs">Energy</tspan> <tspan x="199.2" textLength="51" lengthAdjust="spacingAndGlyphs">(dB)</tspan></text>
<rect x="172" y="355.5" width="391" height="99" fill="#fff" stroke="#303030" stroke-width="1.1"/>
<path d="M175.5 372.9H215" stroke="#77ac30" stroke-width="4.2"/>
<path d="M175.5 404.6H215" stroke="#ff0000" stroke-width="4.2" stroke-dasharray="16 15.5"/>
<path d="M175.5 436.5H215" stroke="#0000ff" stroke-width="4.2" stroke-dasharray="15.7 4 7.74 4"/>
<g class="lg">
<text y="378.1"><tspan x="220" textLength="181.5" lengthAdjust="spacingAndGlyphs">Time-Frequency</tspan> <tspan x="413" textLength="144.5" lengthAdjust="spacingAndGlyphs">(CP-OFDM)</tspan></text>
<text y="410.5"><tspan x="219" textLength="163.2" lengthAdjust="spacingAndGlyphs">Delay-Doppler</tspan> <tspan x="392.6" textLength="140.6" lengthAdjust="spacingAndGlyphs">(Zak-OTFS)</tspan></text>
<text y="442.1"><tspan x="219" textLength="116" lengthAdjust="spacingAndGlyphs">Frequency</tspan> <tspan x="345" textLength="52.6" lengthAdjust="spacingAndGlyphs">(I/O</tspan> <tspan x="406.4" textLength="20.3" lengthAdjust="spacingAndGlyphs">in</tspan> <tspan x="438" textLength="52.8" lengthAdjust="spacingAndGlyphs">(28))</tspan></text>
</g>
</svg></body></html>
